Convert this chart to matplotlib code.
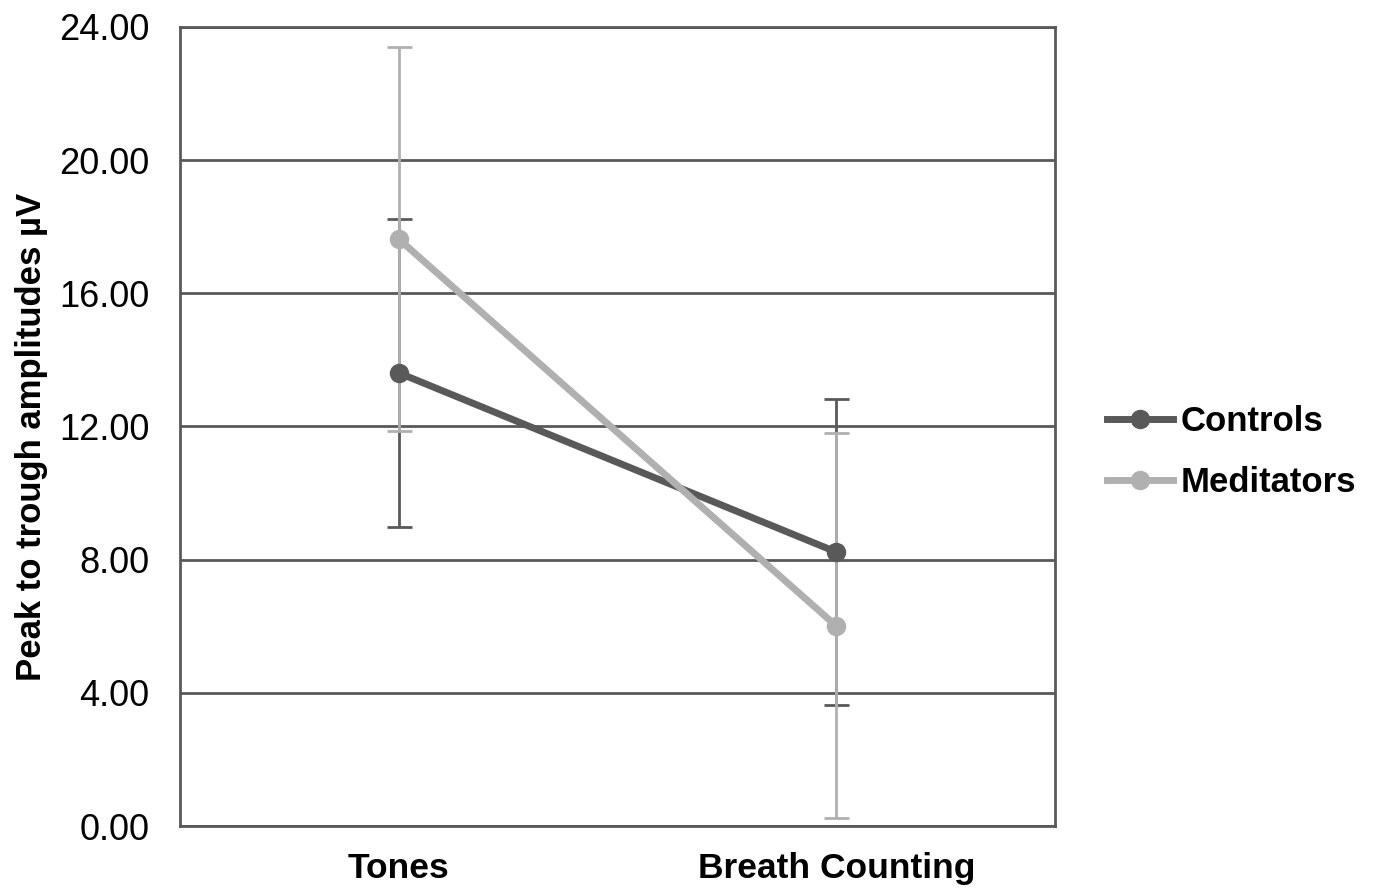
import matplotlib.pyplot as plt

plt.rcParams['font.family'] = ['Liberation Sans', 'DejaVu Sans']

conditions = ['Tones', 'Breath Counting']
controls = [13.61, 8.23]
controls_err = [4.62, 4.60]
meditators = [17.63, 6.01]
meditators_err = [5.78, 5.78]

dark = '#595959'
light = '#b0b0b0'

fig = plt.figure(figsize=(13.76, 8.90), dpi=100)
ax = fig.add_axes([0.1308, 0.0719, 0.7667 - 0.1308, 0.9697 - 0.0719])

x = list(range(len(conditions)))

ax.errorbar(x, controls, yerr=controls_err, fmt='none', ecolor=dark,
            elinewidth=2, capsize=9, capthick=2, zorder=3)
ax.errorbar(x, meditators, yerr=meditators_err, fmt='none', ecolor=light,
            elinewidth=2, capsize=9, capthick=2, zorder=3)
ax.plot(x, controls, color=dark, lw=5, marker='o', ms=13, label='Controls', zorder=4)
ax.plot(x, meditators, color=light, lw=5, marker='o', ms=13, label='Meditators', zorder=5)

ax.set_xlim(-0.5, 1.5)
ax.set_ylim(0, 24)
ax.set_yticks(range(0, 25, 4))
ax.set_yticklabels([f'{v:.2f}' for v in range(0, 25, 4)], fontsize=26)
ax.set_xticks(x)
ax.set_xticklabels(conditions, fontsize=25.5, fontweight='bold')
ax.tick_params(axis='y', length=0, pad=22)
ax.tick_params(axis='x', length=0, pad=19)

ax.yaxis.grid(True, color=dark, lw=2)
ax.set_axisbelow(True)
for s in ax.spines.values():
    s.set_color(dark)
    s.set_linewidth(2)

ax.set_ylabel('Peak to trough amplitudes µV', fontsize=25, fontweight='bold',
              labelpad=8, y=0.487)

fig.legend(loc='center left', bbox_to_anchor=(0.782, 0.492), frameon=False,
           prop={'size': 25, 'weight': 'bold'}, handlelength=1.9, handletextpad=0.2,
           labelspacing=0.8)

fig.savefig('out.png', dpi=100)
